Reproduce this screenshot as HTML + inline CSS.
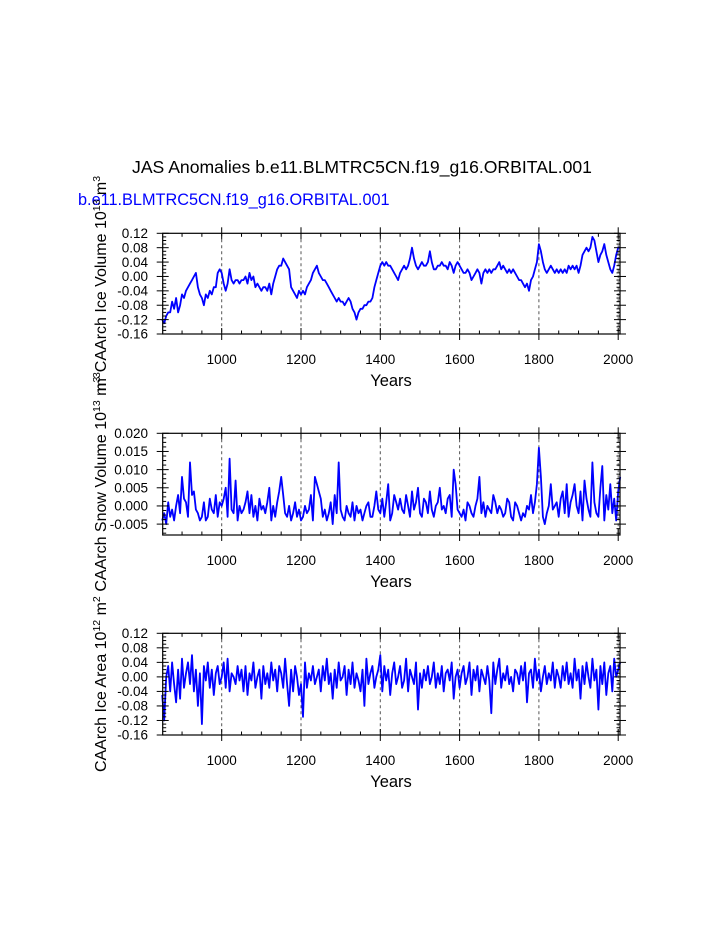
<!DOCTYPE html>
<html><head><meta charset="utf-8"><style>
html,body{margin:0;padding:0;background:#fff;}
svg{display:block;font-family:"Liberation Sans",Arial,sans-serif;}
</style></head><body>
<svg id="chart" width="723" height="935" viewBox="0 0 723 935">
<text x="362" y="173" text-anchor="middle" font-size="17.6" fill="#000">JAS Anomalies b.e11.BLMTRC5CN.f19_g16.ORBITAL.001</text>
<text x="78" y="205" font-size="16.3" fill="#0000ff">b.e11.BLMTRC5CN.f19_g16.ORBITAL.001</text>
<g id="plots"></g>
</svg>
<script>
const years0 = 850, yearStep = 5;
const xTickYears = [1000,1200,1400,1600,1800,2000];
const iceVolume = [-0.12,-0.13,-0.11,-0.10,-0.10,-0.07,-0.09,-0.06,-0.10,-0.08,-0.05,-0.06,-0.04,-0.03,-0.02,-0.01,0.00,0.01,-0.03,-0.05,
-0.06,-0.08,-0.05,-0.06,-0.04,-0.05,-0.03,-0.03,0.01,0.02,0.01,-0.02,-0.04,-0.02,0.02,-0.01,-0.02,-0.01,-0.01,-0.02,
-0.01,-0.01,0.00,-0.02,0.01,-0.01,0.00,-0.03,-0.02,-0.03,-0.04,-0.03,-0.03,-0.04,-0.02,-0.05,-0.02,0.00,0.02,0.03,
0.03,0.05,0.04,0.03,0.02,-0.03,-0.04,-0.05,-0.06,-0.04,-0.05,-0.04,-0.05,-0.03,-0.02,-0.01,0.01,0.02,0.03,0.01,
0.00,-0.01,-0.01,-0.02,-0.03,-0.04,-0.05,-0.06,-0.07,-0.06,-0.07,-0.07,-0.08,-0.07,-0.06,-0.07,-0.09,-0.10,-0.12,-0.10,
-0.09,-0.09,-0.08,-0.08,-0.07,-0.07,-0.06,-0.03,-0.01,0.01,0.03,0.04,0.03,0.04,0.03,0.03,0.02,0.01,0.00,-0.01,
0.01,0.02,0.03,0.02,0.03,0.05,0.08,0.05,0.03,0.02,0.03,0.04,0.03,0.03,0.04,0.07,0.04,0.02,0.02,0.03,
0.03,0.04,0.03,0.03,0.02,0.04,0.03,0.01,0.03,0.04,0.03,0.02,0.01,0.01,0.02,0.01,-0.01,0.00,0.01,0.02,
0.01,-0.02,0.01,0.02,0.01,0.02,0.01,0.02,0.02,0.03,0.04,0.02,0.03,0.02,0.01,0.02,0.01,0.02,0.01,0.00,
-0.01,-0.01,-0.02,-0.03,-0.02,-0.04,-0.01,0.00,0.02,0.04,0.09,0.07,0.04,0.02,0.01,0.02,0.03,0.02,0.01,0.02,
0.01,0.02,0.01,0.02,0.01,0.03,0.02,0.03,0.02,0.03,0.01,0.03,0.06,0.07,0.08,0.07,0.08,0.11,0.10,0.07,
0.04,0.06,0.07,0.09,0.06,0.04,0.02,0.01,0.03,0.06,0.08,0.08];
const snowVolumeMilli = [-4,-2,-5,1,-3,-1,-4,0,3,-2,8,2,1,-3,12,3,4,-1,-2,-4,
-3,1,-4,-3,2,-1,-2,3,-3,1,0,2,5,-3,13,-1,-2,7,-4,0,
-2,-1,1,4,-2,3,-3,0,-4,2,-1,0,-2,1,5,-4,0,-3,1,4,
8,3,-2,-3,0,-4,-2,1,-3,-1,-4,-3,0,-2,-1,3,-4,8,6,4,
2,-3,-1,-4,-2,1,-5,3,-2,12,-1,-3,-4,0,-2,-3,1,-4,0,-2,
-1,-4,-2,0,1,-3,-3,0,4,-1,-2,2,-3,1,6,-4,-2,3,1,-1,
2,-1,-2,3,0,-3,4,-1,1,5,-2,-3,2,1,-2,4,-1,-3,0,1,
5,-1,0,-2,2,3,-3,10,6,-1,-2,-3,-1,-4,1,0,-2,-3,0,2,
8,-2,1,-3,0,-1,-2,3,1,-2,0,-1,-3,-2,2,1,-3,-4,1,0,
-2,-4,-2,-3,0,-1,3,-2,1,6,16,8,-3,-5,-2,0,6,-1,0,1,
-3,2,4,-2,6,-3,1,3,6,0,-2,4,-4,7,2,-1,-3,12,1,-2,
-3,5,11,-4,3,-1,6,-2,2,-4,4,8];
const iceAreaCenti = [-5,-12,0,3,-4,4,-2,-7,2,-6,5,-3,1,4,-2,6,-4,2,-8,1,
-13,3,-1,4,-3,2,-5,1,3,-2,0,4,-3,5,-4,1,0,-2,3,-1,
2,-4,3,-5,1,-1,4,-3,0,2,-6,3,-2,1,-3,4,-1,2,-4,3,
1,-3,5,-2,-8,2,-4,3,0,-5,-2,-11,4,-3,1,-1,3,-2,0,2,
-4,3,-1,5,-2,1,-6,2,-3,4,-1,0,3,-5,2,-2,4,-3,1,-1,
-4,2,-8,5,-2,1,3,-3,0,2,6,-4,3,-1,2,-5,1,4,-2,0,
3,-3,-1,5,-4,2,0,-2,4,-9,1,-3,2,-1,3,-2,0,4,-3,1,
-2,3,-4,1,2,-1,4,-6,0,2,-3,1,3,-2,0,4,-5,2,-1,3,
-4,2,0,-2,3,-1,-10,4,-2,2,5,-3,1,-1,3,-2,0,-4,2,1,
-2,3,-1,4,-7,1,2,-3,5,-1,2,-4,0,3,-2,1,-1,4,-3,2,
0,-3,3,-1,4,-2,1,-3,5,-1,2,-6,3,-2,4,0,-3,5,-1,2,
-9,3,-2,4,-5,1,3,-4,5,0,2,4];
const yTicks1 = [0.12,0.08,0.04,0.00,-0.04,-0.08,-0.12,-0.16];
const yLabels1 = ["0.12","0.08","0.04","0.00","-0.04","-0.08","-0.12","-0.16"];
const yTicks2 = [0.020,0.015,0.010,0.005,0.000,-0.005];
const yLabels2 = ["0.020","0.015","0.010","0.005","0.000","-0.005"];
const yTicks3 = [0.12,0.08,0.04,0.00,-0.04,-0.08,-0.12,-0.16];
const yLabels3 = ["0.12","0.08","0.04","0.00","-0.04","-0.08","-0.12","-0.16"];

const NS="http://www.w3.org/2000/svg";
const root=document.getElementById('plots');
const X0=162.7, X1=620;
function xS(yr){return 221.7+(yr-1000)*(618.2-221.7)/1000;}
function mk(tag,attrs,parent){const e=document.createElementNS(NS,tag);for(const k in attrs)e.setAttribute(k,attrs[k]);(parent||root).appendChild(e);return e;}

function panel(cfg){
  const g=mk('g',{});
  
  
  const yS=v=>cfg.top+(cfg.ymax-v)/(cfg.ymax-cfg.ymin)*(cfg.bot-cfg.top);
  xTickYears.forEach(yr=>{
    const l=mk('line',{x1:xS(yr),x2:xS(yr),y1:cfg.top,y2:cfg.bot,stroke:'#555','stroke-width':1,'stroke-dasharray':'3,3'},g);
    
    
  });
  let d='';
  cfg.data.forEach((v,i)=>{const yr=years0+i*yearStep;d+=(i?'L':'M')+xS(yr).toFixed(1)+','+yS(v*cfg.scale).toFixed(1);});
  const p=mk('path',{d:d,fill:'none',stroke:'#0000ff','stroke-width':1.8,'stroke-linejoin':'round'},g);
  
  
  const f=mk('rect',{x:X0,y:cfg.top,width:X1-X0,height:cfg.bot-cfg.top,fill:'none',stroke:'#000','stroke-width':1.2},g);
  
  
  for(let yr=900;yr<=2000;yr+=50){
    const major=yr%200===0;const x=xS(yr);
    [cfg.top,cfg.bot].forEach((yy,j)=>{
      const dir=j===0?1:-1;
      mk('line',{x1:x,x2:x,y1:yy-(major?6*dir:0),y2:yy+(major?6:3.5)*dir,stroke:'#000','stroke-width':1},g);
    });
  }
  xTickYears.forEach(yr=>{
    const t=mk('text',{x:xS(yr),y:cfg.bot+30,'text-anchor':'middle','font-size':13.5,fill:'#000'},g);
    t.textContent=String(yr);
    
    
  });
  const xt=mk('text',{x:391,y:cfg.bot+52,'text-anchor':'middle','font-size':16.5,fill:'#000'},g);
  xt.textContent='Years';
  
  
  const step=cfg.ticks[0]-cfg.ticks[1];const minor=step/4;
  for(let v=cfg.ticks[0];v>=cfg.ymin-1e-9;v-=minor){
    const y=yS(v);
    const isMajor=cfg.ticks.some(t=>Math.abs(t-v)<minor/10);
    const L=isMajor?6:3.5;
    mk('line',{x1:X0-(isMajor?6:0),x2:X0+L,y1:y,y2:y,stroke:'#000','stroke-width':1},g);
    mk('line',{x1:X1-L,x2:X1+(isMajor?6:0),y1:y,y2:y,stroke:'#000','stroke-width':1},g);
  }
  cfg.ticks.forEach((v,i)=>{
    const t=mk('text',{x:148,y:yS(v)+4.7,'text-anchor':'end','font-size':13.5,fill:'#000'},g);
    t.textContent=cfg.labels[i];
    
    
  });
  const cy=(cfg.top+cfg.bot)/2;
  const yt=mk('text',{x:0,y:0,'text-anchor':'middle','font-size':16,fill:'#000',transform:`translate(106,${cy+cfg.tyOff}) rotate(-90)`},g);
  yt.innerHTML=cfg.title;
  
  
}
panel({name:'ice-volume-panel',top:233.3,bot:334,ymax:0.12,ymin:-0.16,data:iceVolume,scale:1,ticks:yTicks1,labels:yLabels1,tyOff:0,
 title:'m<tspan dy="-6" font-size="10.5">3</tspan><tspan dy="6">CAArch Ice Volume 10</tspan><tspan dy="-6" font-size="10.5">13</tspan><tspan dy="6"> m</tspan><tspan dy="-6" font-size="10.5">3</tspan>'});
panel({name:'snow-volume-panel',top:433.3,bot:535,ymax:0.020,ymin:-0.008,data:snowVolumeMilli,scale:0.001,ticks:yTicks2,labels:yLabels2,tyOff:0,
 title:'CAArch Snow Volume 10<tspan dy="-6" font-size="10.5">13</tspan><tspan dy="6"> m</tspan><tspan dy="-6" font-size="10.5">3</tspan>'});
panel({name:'ice-area-panel',top:633.3,bot:735,ymax:0.12,ymin:-0.16,data:iceAreaCenti,scale:0.01,ticks:yTicks3,labels:yLabels3,tyOff:0,
 title:'CAArch Ice Area 10<tspan dy="-6" font-size="10.5">12</tspan><tspan dy="6"> m</tspan><tspan dy="-6" font-size="10.5">2</tspan>'});
</script>
</body></html>
